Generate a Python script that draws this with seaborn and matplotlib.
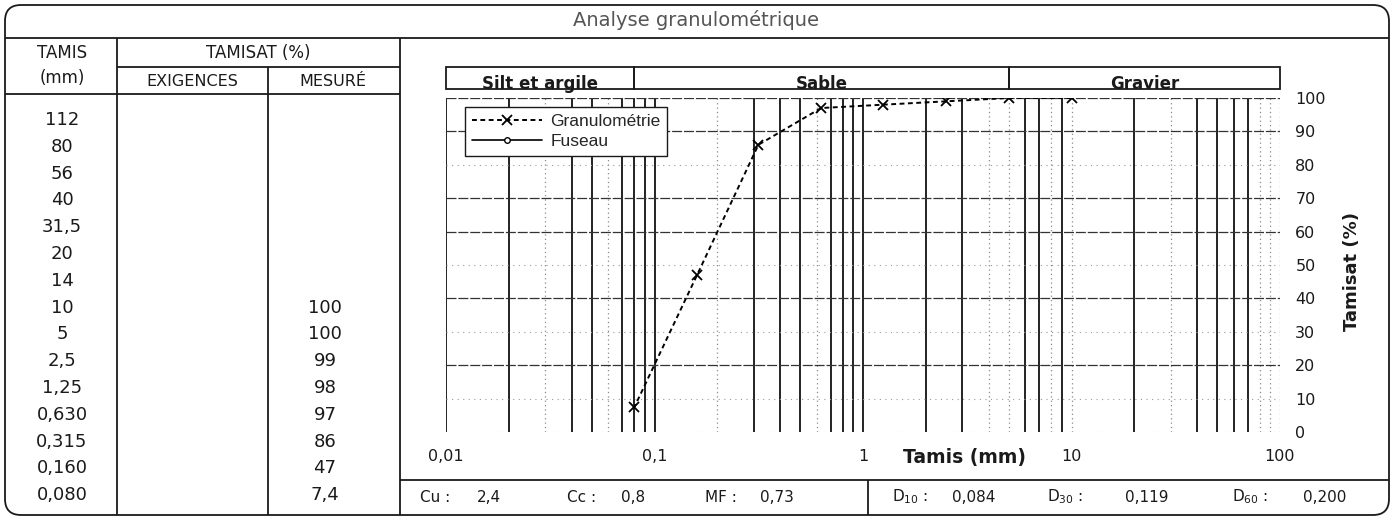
import numpy as np
import matplotlib
matplotlib.use("Agg")
import matplotlib.pyplot as plt
import matplotlib.ticker as mticker
from matplotlib.patches import FancyBboxPatch
import seaborn as sns


W, H = 1392, 518
DPI = 100

TITLE = "Analyse granulométrique"

# sieve column of the table (mm)
TAMIS_MM = [112, 80, 56, 40, 31.5, 20, 14, 10, 5, 2.5, 1.25, 0.630, 0.315, 0.160, 0.080]
# measured passing (%)
SIEVE_MM = [10, 5, 2.5, 1.25, 0.630, 0.315, 0.160, 0.080]
PASSING = [100, 100, 99, 98, 97, 86, 47, 7.4]

BAND_NAMES = ["Silt et argile", "Sable", "Gravier"]
BAND_EDGES = [0.01, 0.08, 5, 100]

X_TICKS = [0.01, 0.1, 1, 10, 100]
Y_TICKS = list(range(0, 101, 10))

COEF_NAMES = ["Cu", "Cc", "MF"]
COEF_VALUES = [2.4, 0.8, 0.73]
D_NAMES = ["10", "30", "60"]
D_VALUES = [0.084, 0.119, 0.200]

# grid styling (scan look)
DOTTED_X = [0.03, 0.06, 0.2, 0.6, 4, 5, 8, 10, 30, 80, 90, 100]
STRONG_Y = [20, 40, 60, 70, 90, 100]


def fr(left, top, right, bottom):
    return [left / W, 1 - bottom / H, (right - left) / W, (bottom - top) / H]


def comma(v, fmt="{:g}"):
    return fmt.format(v).replace(".", ",")


def tamis_label(v):
    return comma(v, "{:.3f}") if v < 1 else comma(v)


sns.set_theme(style="white")
plt.rcParams["font.family"] = ["DejaVu Sans"]
plt.rcParams["mathtext.default"] = "regular"

fig = plt.figure(figsize=(W / DPI, H / DPI), dpi=DPI, facecolor="white")

# background axes in pixel coordinates for the form layout
bg = fig.add_axes([0, 0, 1, 1])
bg.set_xlim(0, W)
bg.set_ylim(H, 0)
bg.axis("off")

LW = 1.3
INK = "#1a1a1a"
bg.add_patch(FancyBboxPatch((5, 5), 1384, 510, boxstyle="round,pad=0,rounding_size=16",
                            fill=False, edgecolor=INK, linewidth=LW))
bg.hlines(38, 5, 1389, color=INK, lw=LW)
bg.hlines(67, 117, 400, color=INK, lw=LW)
bg.hlines(94, 5, 400, color=INK, lw=LW)
bg.vlines(117, 38, 515, color=INK, lw=LW)
bg.vlines(268, 67, 515, color=INK, lw=LW)
bg.vlines(400, 38, 515, color=INK, lw=LW)
bg.hlines(480, 400, 1389, color=INK, lw=LW)
bg.vlines(868, 480, 515, color=INK, lw=LW)

bg.text(696, 20, TITLE, ha="center", va="center", fontsize=14, color="#555555")

bg.text(62, 53, "TAMIS", ha="center", va="center", fontsize=12, color=INK)
bg.text(62, 78, "(mm)", ha="center", va="center", fontsize=12, color=INK)
bg.text(258, 53, "TAMISAT (%)", ha="center", va="center", fontsize=12, color=INK)
bg.text(192, 81, "EXIGENCES", ha="center", va="center", fontsize=11.5, color=INK)
bg.text(333, 81, "MESURÉ", ha="center", va="center", fontsize=11.5, color=INK)

row_y = {}
for i, v in enumerate(TAMIS_MM):
    y = 120 + i * 26.8
    row_y[v] = y
    bg.text(62, y, tamis_label(v), ha="center", va="center", fontsize=13, color=INK)
for s, p in zip(SIEVE_MM, PASSING):
    bg.text(325, row_y[s], comma(p), ha="center", va="center", fontsize=13, color=INK)

# coefficient row
for name, val, x_lab, x_val in zip(COEF_NAMES, COEF_VALUES, [420, 567, 705], [477, 621, 760]):
    bg.text(x_lab, 497, f"{name} :", ha="left", va="center", fontsize=11, color=INK)
    bg.text(x_val, 497, comma(val), ha="left", va="center", fontsize=11, color=INK)
for name, val, x_lab, x_val in zip(D_NAMES, D_VALUES, [892, 1047, 1232], [952, 1125, 1303]):
    bg.text(x_lab, 497, f"D$_{{{name}}}$ :", ha="left", va="center", fontsize=11, color=INK)
    bg.text(x_val, 497, comma(val, "{:.3f}"), ha="left", va="center", fontsize=11, color=INK)

# band header above the chart
band = fig.add_axes(fr(446, 67, 1280, 89))
band.set_xscale("log")
band.set_xlim(BAND_EDGES[0], BAND_EDGES[-1])
band.set_ylim(0, 1)
band.axis("off")
for name, lo, hi in zip(BAND_NAMES, BAND_EDGES[:-1], BAND_EDGES[1:]):
    band.axvspan(lo, hi, fill=False, edgecolor=INK, linewidth=LW, clip_on=False)
    band.text(np.sqrt(lo * hi), 0.0, name, ha="center", va="baseline",
              fontsize=12, fontweight="bold", color=INK)

# main chart
ax = fig.add_axes(fr(446, 98, 1280, 432))
ax.set_facecolor("none")
ax.set_xscale("log")

sns.lineplot(x=SIEVE_MM, y=PASSING, ax=ax, color="black", linewidth=1.4,
             linestyle=(0, (2.5, 1.8)), marker="x", markersize=7,
             markeredgewidth=1.3, markeredgecolor="black",
             estimator=None, sort=False, label="Granulométrie", zorder=5)
ax.plot([], [], color="black", linewidth=1.2, marker="o", markersize=4,
        markerfacecolor="white", label="Fuseau")

ax.set_xlim(X_TICKS[0], X_TICKS[-1])
ax.set_ylim(0, 100)
ax.xaxis.set_major_locator(mticker.FixedLocator(X_TICKS))
ax.xaxis.set_minor_locator(mticker.LogLocator(base=10, subs=np.arange(2, 10), numticks=20))
ax.xaxis.set_major_formatter(mticker.FuncFormatter(lambda v, p: comma(v)))
ax.xaxis.set_minor_formatter(mticker.NullFormatter())
ax.set_yticks(Y_TICKS)
ax.yaxis.tick_right()
ax.tick_params(axis="x", which="both", length=0, pad=12, labelsize=11.5, colors=INK)
ax.tick_params(axis="y", length=0, pad=11, labelsize=11.5, colors=INK)
for s in ax.spines.values():
    s.set_visible(False)

ax.set_xlabel("Tamis (mm)", fontsize=13.5, fontweight="bold", color=INK)
ax.xaxis.set_label_coords(0.622, -0.075)
ax.xaxis.label.set_verticalalignment("center")
ax.yaxis.set_label_position("right")
ax.set_ylabel("Tamisat (%)", fontsize=13, fontweight="bold", color=INK)
ax.yaxis.set_label_coords(1.086, 0.48)
ax.yaxis.label.set_verticalalignment("center")

ax.grid(True, which="both", axis="x")
ax.grid(True, which="major", axis="y")
fig.canvas.draw()
for tick in ax.xaxis.get_major_ticks() + ax.xaxis.get_minor_ticks():
    loc = tick.get_loc()
    if any(np.isclose(loc, d) for d in DOTTED_X):
        tick.gridline.set(color="#8a8a8a", linewidth=0.9, linestyle=(0, (1, 2.5)))
    else:
        tick.gridline.set(color="#111111", linewidth=1.3, linestyle="-")
for tick in ax.yaxis.get_major_ticks():
    loc = tick.get_loc()
    if any(np.isclose(loc, d) for d in STRONG_Y):
        tick.gridline.set(color="#333333", linewidth=0.9, linestyle=(0, (8, 1.5)))
    else:
        tick.gridline.set(color="#9a9a9a", linewidth=0.8, linestyle=(0, (1, 4)))

leg = ax.legend(loc="upper left", bbox_to_anchor=(0.023, 0.973), borderaxespad=0,
                frameon=True, fancybox=False, framealpha=1, edgecolor=INK,
                prop={"family": ["Liberation Sans", "DejaVu Sans"], "size": 12.5},
                handlelength=4.0, handletextpad=0.5, borderpad=0.4, labelspacing=0.3)
leg.get_frame().set_linewidth(1.0)
leg.set_zorder(10)

fig.savefig("out.png", dpi=DPI, facecolor="white")
